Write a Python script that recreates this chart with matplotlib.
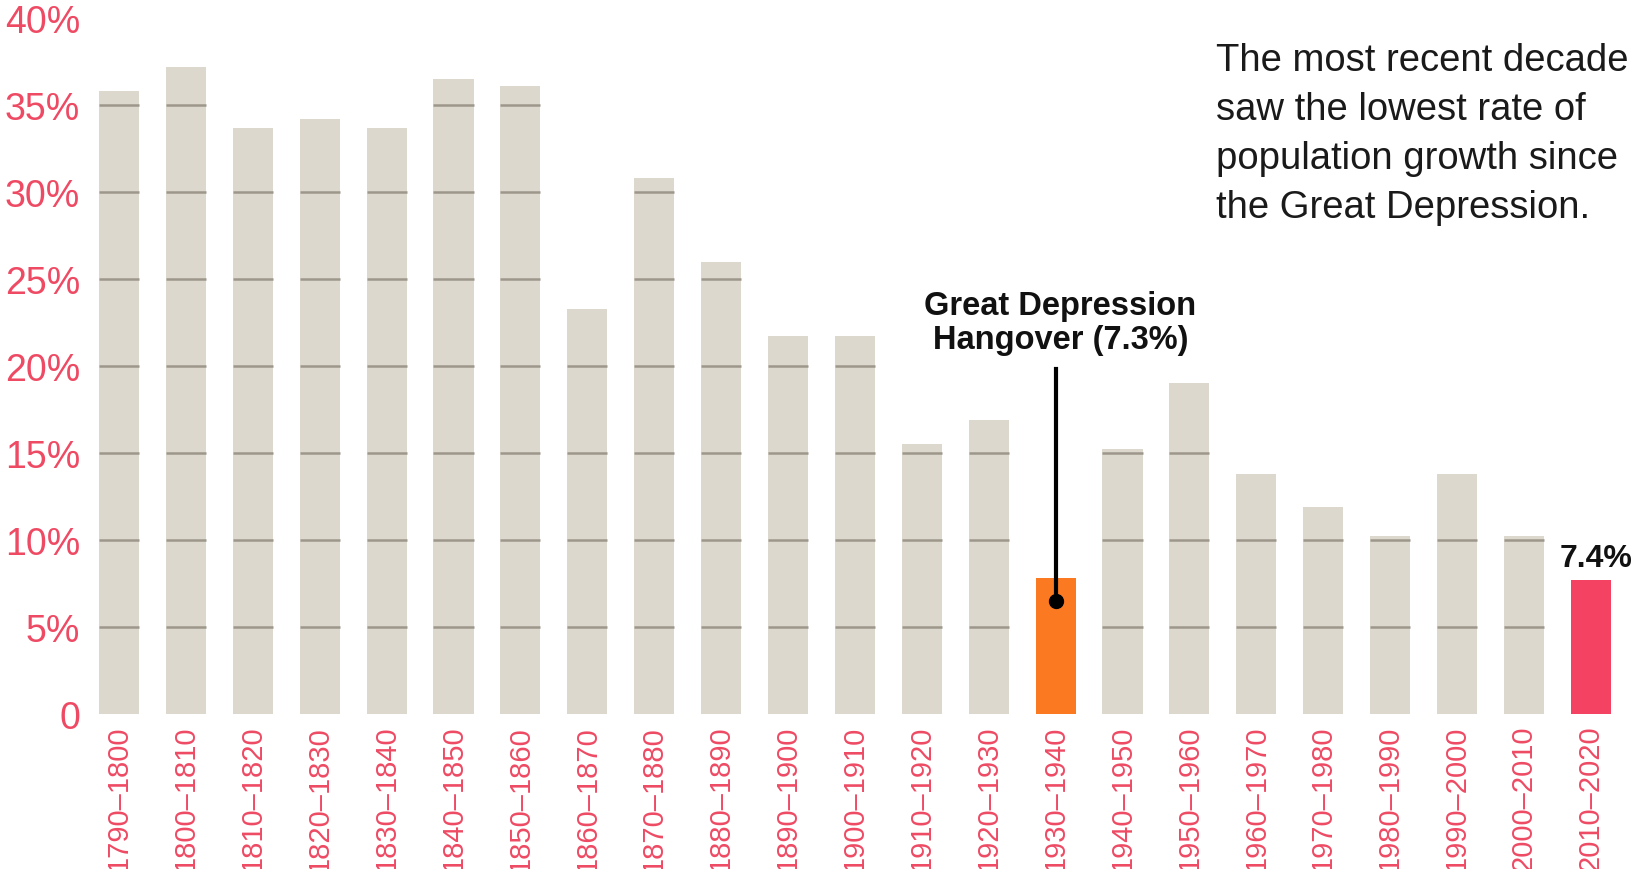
import numpy as np
import matplotlib.pyplot as plt

# decades and growth rate (%) as drawn in the chart
decades = ["1790–1800", "1800–1810", "1810–1820", "1820–1830", "1830–1840",
           "1840–1850", "1850–1860", "1860–1870", "1870–1880", "1880–1890",
           "1890–1900", "1900–1910", "1910–1920", "1920–1930", "1930–1940",
           "1940–1950", "1950–1960", "1960–1970", "1970–1980", "1980–1990",
           "1990–2000", "2000–2010", "2010–2020"]
growth = [35.8, 37.2, 33.7, 34.2, 33.7, 36.5, 36.1, 23.3, 30.8, 26.0,
          21.7, 21.7, 15.5, 16.9, 7.8, 15.2, 19.0, 13.8, 11.9, 10.2,
          13.8, 10.2, 7.7]
yticks = [0, 5, 10, 15, 20, 25, 30, 35, 40]
ytick_labels = ["0", "5%", "10%", "15%", "20%", "25%", "30%", "35%", "40%"]

wood = "#ddd8ce"
grain = "#9c968b"
pink = "#ee4a64"
orange = "#fb7a21"
red_last = "#f34262"

plt.rcParams['font.family'] = ['Liberation Sans', 'DejaVu Sans']

fig = plt.figure(figsize=(16.36, 8.7), dpi=100)
ax = fig.add_axes([0.0523, 0.1785, 0.9405, 0.7995])

x = np.arange(len(decades))
w = 0.6
colors = [wood] * len(decades)
colors[14] = orange
colors[-1] = red_last
ax.bar(x, growth, width=w, color=colors, zorder=2)

# grid lines show only inside the wooden bars
for i, h in enumerate(growth):
    if i in (14, len(growth) - 1):
        continue
    levels = [g for g in yticks[1:] if g < h]
    ax.hlines(levels, i - w / 2, i + w / 2, color=grain, lw=1.8, zorder=3)

ax.set_xlim(-0.5, len(decades) - 0.5)
ax.set_ylim(0, 40)
ax.set_yticks(yticks)
ax.set_yticklabels(ytick_labels)
ax.set_xticks(x)
ax.set_xticklabels(decades, rotation=90)
ax.tick_params(axis='y', length=0, pad=4, labelsize=27, labelcolor=pink)
ax.tick_params(axis='x', length=0, pad=8, labelsize=21, labelcolor=pink)
for s in ax.spines.values():
    s.set_visible(False)

# annotation for the Great Depression bar
ax.plot([14, 14], [6.5, 19.8], color="black", lw=3, zorder=4)
ax.plot(14, 6.5, 'o', color="black", ms=10, zorder=5)
ax.text(14.07, 22.5, "Great Depression\nHangover (7.3%)", ha="center", va="center",
        fontsize=23.5, fontweight="bold", linespacing=1.15, color="#111111")

ax.text(22.08, 8.1, "7.4%", ha="center", va="bottom", fontsize=23,
        fontweight="bold", color="#111111")

fig.text(0.7435, 0.951, "The most recent decade\nsaw the lowest rate of\npopulation growth since\nthe Great Depression.",
         ha="left", va="top", fontsize=27.5, linespacing=1.47, color="#1a1a1a")

fig.savefig("out.png", dpi=100, facecolor="white")
